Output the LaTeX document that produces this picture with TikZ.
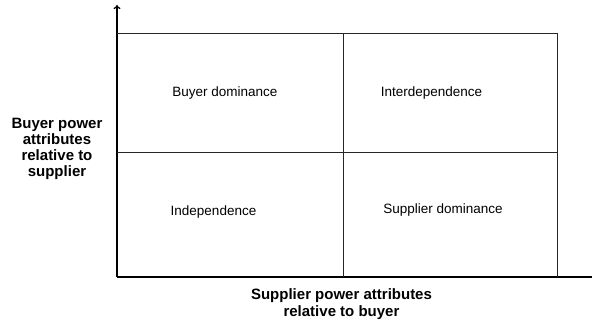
\documentclass[tikz,border=0pt]{standalone}
\usepackage{fontspec}
\setmainfont{Liberation Sans}
\usetikzlibrary{positioning}
\usetikzlibrary{arrows.meta}

\begin{document}
\begin{tikzpicture}[x=1pt,y=1pt]
        \tikzstyle{quad}=[font=\fontsize{13.5}{15}\selectfont, inner sep=0pt]
        \tikzstyle{axislabel}=[font=\bfseries\fontsize{15}{16}\selectfont,
            align=center, inner sep=0pt]
        \tikzstyle{grid}=[line width=1pt, black!85]
        \tikzstyle{axis}=[line width=1.3pt, -{To[length=4pt,width=7pt]}]
        \useasboundingbox (0,0) rectangle (592,324);

            % axes
            \coordinate (o) at (117,47);
            \coordinate (ytop) at (117,319);
            \coordinate (xend) at (598,47);
            \draw[axis] (o) -- (ytop);
            \draw[axis] (o) -- (xend);

            % matrix lines
            \coordinate (tl) at (117,290);
            \coordinate (tr) at (557,290);
            \coordinate (br) at (557,47);
            \coordinate (tm) at (343,290);
            \coordinate (bm) at (343,47);
            \coordinate (ml) at (117,171);
            \coordinate (mr) at (557,171);
            \draw[grid] (tl) -- (tr) -- (br);
            \draw[grid] (tm) -- (bm);
            \draw[grid] (ml) -- (mr);

            % quadrants
            \node[quad] (buyerdom) at (225,231) {Buyer dominance};
            \node[quad] (interdep) at (431.5,231) {Interdependence};
            \node[quad] (indep) at (213.5,112) {Independence};
            \node[quad] (supplierdom) at (443,114) {Supplier dominance};

            % axis labels
            \node[axislabel] (ylabel) at (57,175)
            {Buyer power\\attributes\\relative to\\supplier};
            \node[axislabel, font=\bfseries\fontsize{15}{17}\selectfont]
            (xlabel) at (341.5,19.5)
            {Supplier power attributes\\relative to buyer};
        \end{tikzpicture}
\end{document}
